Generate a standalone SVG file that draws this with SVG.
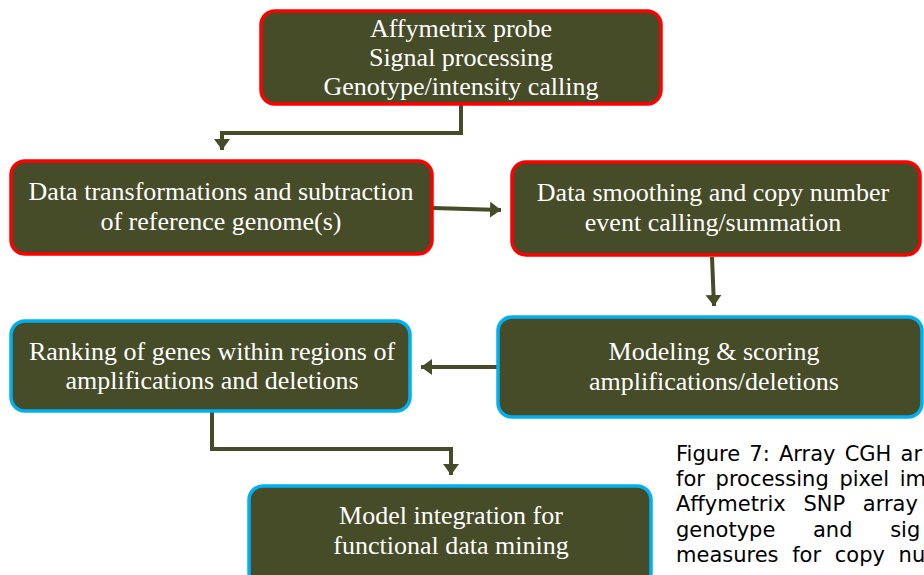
<svg xmlns="http://www.w3.org/2000/svg" width="924" height="575" viewBox="0 0 924 575">
<style>
.box{fill:#464B28;stroke-width:3.5}
.red{stroke:#FF0000}
.blue{stroke:#00B0F0}
.t{font-family:"Liberation Serif",serif;font-size:26px;fill:#FFFFFF;text-anchor:middle}
.c{fill:none;stroke:#464B28;stroke-width:4}
.cap{font-family:"DejaVu Sans",Verdana,sans-serif;font-size:21px;fill:#000000}
</style>
<defs>
<marker id="ah" markerUnits="userSpaceOnUse" markerWidth="18" markerHeight="18" refX="11" refY="8" orient="auto">
<path d="M0,0 L11,8 L0,16 Z" fill="#464B28"/>
</marker>
</defs>
<rect width="924" height="575" fill="#FFFFFF"/>
<g id="connectors">
<path class="c" d="M461,104 V133 H222 V150" marker-end="url(#ah)"/>
<path class="c" d="M433,208 L501,210" marker-end="url(#ah)"/>
<path class="c" d="M712,257 L714,306" marker-end="url(#ah)"/>
<path class="c" d="M497,367 H421" marker-end="url(#ah)"/>
<path class="c" d="M212,412 V449 H451 V475" marker-end="url(#ah)"/>
</g>
<g id="n1">
<rect class="box red" x="261" y="11" width="400" height="93" rx="14"/>
<text class="t" x="461" y="37">Affymetrix probe</text>
<text class="t" x="461" y="66">Signal processing</text>
<text class="t" x="461" y="95">Genotype/intensity calling</text>
</g>
<g id="n2">
<rect class="box red" x="11" y="161" width="421" height="93" rx="14"/>
<text class="t" x="221" y="200">Data transformations and subtraction</text>
<text class="t" x="221" y="230">of reference genome(s)</text>
</g>
<g id="n3">
<rect class="box red" x="512" y="162" width="408" height="93" rx="14"/>
<text class="t" x="713" y="201">Data smoothing and copy number</text>
<text class="t" x="713" y="231">event calling/summation</text>
</g>
<g id="n4">
<rect class="box blue" x="498" y="317" width="424" height="100" rx="14"/>
<text class="t" x="714" y="360">Modeling &amp; scoring</text>
<text class="t" x="714" y="390">amplifications/deletions</text>
</g>
<g id="n5">
<rect class="box blue" x="11" y="321" width="399" height="90" rx="14"/>
<text class="t" x="212" y="360">Ranking of genes within regions of</text>
<text class="t" x="212" y="389">amplifications and deletions</text>
</g>
<g id="n6">
<rect class="box blue" x="249" y="486" width="402" height="100" rx="14"/>
<text class="t" x="451" y="524">Model integration for</text>
<text class="t" x="451" y="554">functional data mining</text>
</g>
<g id="caption">
<text class="cap" x="676" y="461" word-spacing="2.5">Figure 7: Array CGH ar</text>
<text class="cap" x="676" y="486" word-spacing="4">for processing pixel im</text>
<text class="cap" x="676" y="511" word-spacing="11">Affymetrix SNP array</text>
<text class="cap" x="676" y="537" word-spacing="31">genotype and sig</text>
<text class="cap" x="676" y="562" word-spacing="7">measures for copy nu</text>
</g>
</svg>
